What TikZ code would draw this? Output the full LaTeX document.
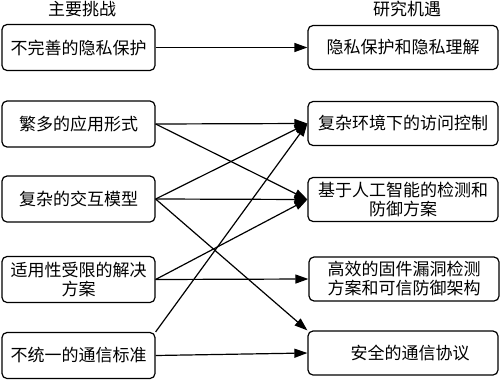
\documentclass[tikz,border=0pt]{standalone}
\usepackage{fontspec}
\setmainfont{Noto Sans CJK SC}
\usetikzlibrary{arrows.meta}
\begin{document}
\begin{tikzpicture}[x=1pt,y=-1pt,
  box/.style={draw, line width=1.2pt, rounded corners=5pt, align=center,
    font=\fontsize{17}{19}\selectfont, inner sep=0pt},
  lbox/.style={box, minimum width=153pt, minimum height=46pt},
  rbox/.style={box, minimum width=190pt, minimum height=44pt},
  head/.style={font=\fontsize{17}{19}\selectfont, inner sep=0pt},
  arr/.style={line width=1.2pt, -{Triangle[length=13pt,width=9pt]}},
  ln/.style={line width=1.2pt}]
\useasboundingbox (0,0) rectangle (500,380);
\node[head] (h1) at (82,9) {主要挑战};
\node[head] (h2) at (407,9) {研究机遇};
\node[lbox] (L1) at (78.5,47.5) {不完善的隐私保护};
\node[lbox] (L2) at (78.5,124) {繁多的应用形式};
\node[lbox] (L3) at (78.5,199) {复杂的交互模型};
\node[lbox] (L4) at (78.5,279.5) {适用性受限的解决\\方案};
\node[lbox] (L5) at (78.5,355.5) {不统一的通信标准};
\node[rbox] (R1) at (403,47.5) {隐私保护和隐私理解};
\node[rbox] (R2) at (403,123.5) {复杂环境下的访问控制};
\node[rbox] (R3) at (403,199.5) {基于人工智能的检测和\\防御方案};
\node[rbox] (R4) at (404,279) {高效的固件漏洞检测\\方案和可信防御架构};
\node[rbox] (R5) at (403,353) {\hspace*{14pt}安全的通信协议};
\draw[arr] (L1.east) -- (R1.west);
\draw[arr] (L2.east) -- (R2.west);
\draw[arr] (L2.east) -- (R3.west);
\draw[arr] (L3.east) -- (R2.west);
\draw[arr] (L3.east) -- (R3.west);
\draw[arr] (L3.east) -- (R5.north west);
\draw[arr] (L4.east) -- (R3.west);
\draw[arr] (L4.east) -- (R4.west);
\draw[arr] (L5.north east) -- (R2.west);
\draw[arr] (L5.east) -- (R5.west);
\end{tikzpicture}
\end{document}
